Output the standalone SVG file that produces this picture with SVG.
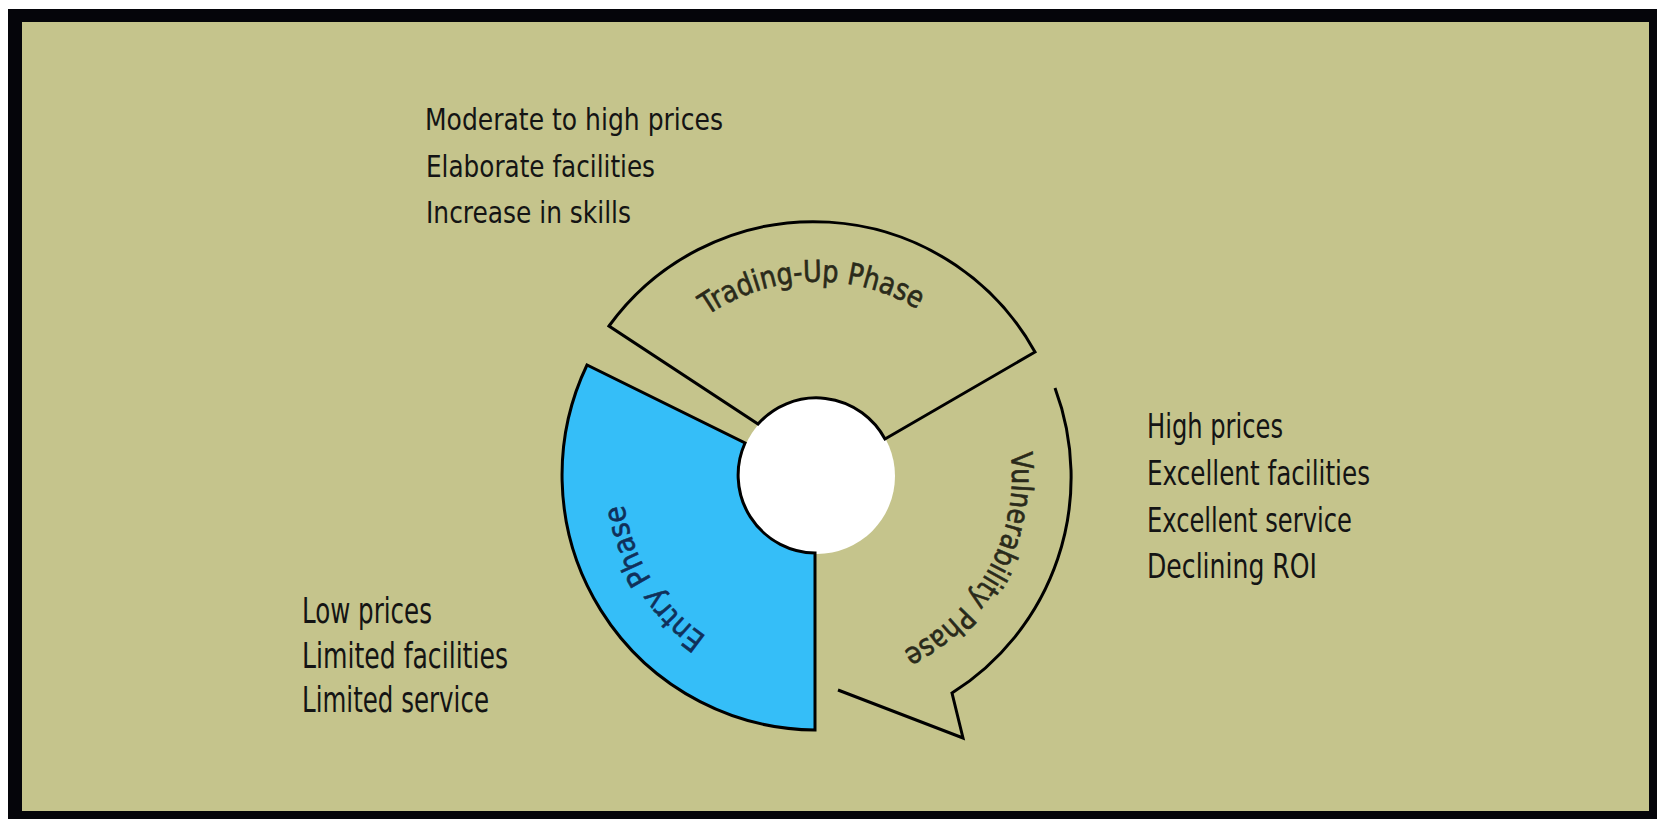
<svg xmlns="http://www.w3.org/2000/svg" width="1657" height="819" viewBox="0 0 1657 819">
  <style>
    .seg { stroke: #000; stroke-width: 3; stroke-linejoin: miter; }
    .lbl { font-family: "Liberation Sans Narrow", "DejaVu Sans Condensed", "Liberation Sans", sans-serif; fill: #141414; }
    .arc { font-family: "Liberation Sans Narrow", "DejaVu Sans Condensed", "Liberation Sans", sans-serif; font-size: 30px; fill: #2a2a1a; stroke: #2a2a1a; stroke-width: 0.6; }
  </style>
  <defs>
    <path id="pTrade" d="M 632.7 413.6 A 195 195 0 0 1 997.8 403.0"/>
    <path id="pEntry" d="M 850.9 668.0 A 195 195 0 0 1 659.2 361.4"/>
    <path id="pVuln" d="M 966.4 350.7 A 195 195 0 0 1 793.2 669.5"/>
  </defs>

  <rect x="0" y="0" width="1657" height="819" fill="#ffffff"/>
  <rect x="8" y="9" width="1649" height="810" fill="#05050a"/>
  <rect x="22" y="22" width="1627" height="789" fill="#c5c48c"/>

  <g id="hub">
    <circle cx="817" cy="476" r="78" fill="#ffffff"/>
  </g>

  <g id="trading-up">
    <path class="seg" fill="#c5c48c" d="M 609 326 A 253 253 0 0 1 1035 352 L 885 439 A 78 78 0 0 0 758 424 Z"/>
    <text class="arc"><textPath href="#pTrade" startOffset="50%" text-anchor="middle" textLength="222" lengthAdjust="spacingAndGlyphs">Trading-Up Phase</textPath></text>
  </g>

  <g id="entry">
    <path class="seg" fill="#35bef8" d="M 587 365 A 255 255 0 0 0 815 730 L 815 553 A 78 78 0 0 1 745 443 Z"/>
    <text class="arc" style="fill:#10305a;stroke:#10305a"><textPath href="#pEntry" startOffset="50%" text-anchor="middle" textLength="160" lengthAdjust="spacingAndGlyphs">Entry Phase</textPath></text>
  </g>

  <g id="vulnerability">
    <path class="seg" fill="none" d="M 1055 388 A 255 255 0 0 1 952 693 L 963 738 L 838 690"/>
    <text class="arc"><textPath href="#pVuln" startOffset="50%" text-anchor="middle" textLength="240" lengthAdjust="spacingAndGlyphs">Vulnerability Phase</textPath></text>
  </g>

  <g id="connectors"></g>

  <g id="notes-trading">
    <text class="lbl" font-size="31" x="425" y="130" textLength="298" lengthAdjust="spacingAndGlyphs">Moderate to high prices</text>
    <text class="lbl" font-size="31" x="426" y="177" textLength="229" lengthAdjust="spacingAndGlyphs">Elaborate facilities</text>
    <text class="lbl" font-size="31" x="426" y="223" textLength="205" lengthAdjust="spacingAndGlyphs">Increase in skills</text>
  </g>

  <g id="notes-vulnerability">
    <text class="lbl" font-size="33" x="1147" y="438" textLength="136" lengthAdjust="spacingAndGlyphs">High prices</text>
    <text class="lbl" font-size="33" x="1147" y="485" textLength="223" lengthAdjust="spacingAndGlyphs">Excellent facilities</text>
    <text class="lbl" font-size="33" x="1147" y="532" textLength="205" lengthAdjust="spacingAndGlyphs">Excellent service</text>
    <text class="lbl" font-size="33" x="1147" y="578" textLength="170" lengthAdjust="spacingAndGlyphs">Declining ROI</text>
  </g>

  <g id="notes-entry">
    <text class="lbl" font-size="35" x="302" y="623" textLength="130" lengthAdjust="spacingAndGlyphs">Low prices</text>
    <text class="lbl" font-size="35" x="302" y="668" textLength="206" lengthAdjust="spacingAndGlyphs">Limited facilities</text>
    <text class="lbl" font-size="35" x="302" y="712" textLength="187" lengthAdjust="spacingAndGlyphs">Limited service</text>
  </g>
</svg>
